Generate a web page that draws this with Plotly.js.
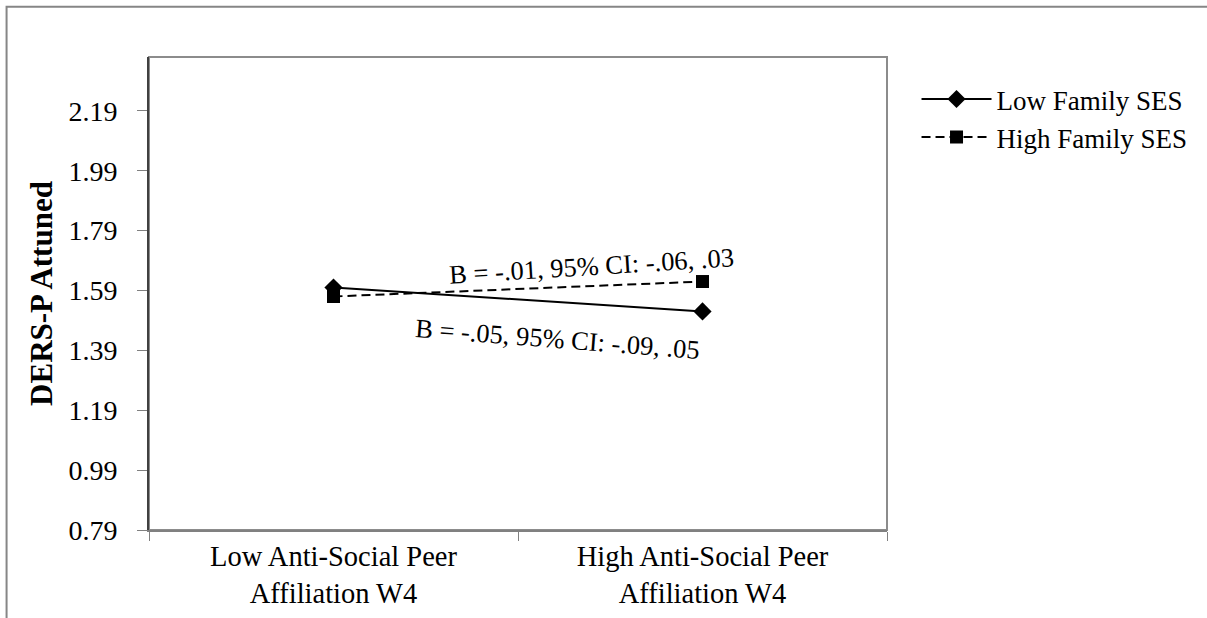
<!DOCTYPE html>
<html>
<head>
<meta charset="utf-8">
<script src="https://cdn.plot.ly/plotly-3.0.1.min.js"></script>
<style>html,body{margin:0;padding:0;background:#fff;}#chart{width:1207px;height:618px;}</style>
</head>
<body>
<div id="chart"></div>
<script>
// Data
const categories = ["Low Anti-Social Peer<br>Affiliation W4", "High Anti-Social Peer<br>Affiliation W4"];
const lowSES = [1.60, 1.52];
const highSES = [1.57, 1.62];
const seriesNames = ["Low Family SES", "High Family SES"];
const yTickVals = [0.79, 0.99, 1.19, 1.39, 1.59, 1.79, 1.99, 2.19];
const yTickText = ["0.79", "0.99", "1.19", "1.39", "1.59", "1.79", "1.99", "2.19"];
const noteHigh = "B = -.01, 95% CI: -.06, .03";
const noteLow = "B = -.05, 95% CI: -.09, .05";

const FONT = "'Liberation Serif', 'Times New Roman', Times, serif";

const traces = [
  {
    x: categories, y: lowSES, name: seriesNames[0], type: "scatter", mode: "lines+markers",
    line: {color: "#000", width: 2, dash: "solid"},
    marker: {symbol: "diamond", size: 14, color: "#000"}
  },
  {
    x: categories, y: highSES, name: seriesNames[1], type: "scatter", mode: "lines+markers",
    line: {color: "#000", width: 2, dash: "9px,5px"},
    marker: {symbol: "square", size: 13, color: "#000"}
  }
];

const layout = {
  width: 1207, height: 618,
  margin: {l: 149, r: 320, t: 57, b: 88},
  paper_bgcolor: "#fff", plot_bgcolor: "#fff",
  font: {family: FONT, color: "#000", size: 28},
  showlegend: true,
  legend: {
    x: 1.04, y: 0.962, xanchor: "left", yanchor: "top",
    font: {family: FONT, size: 27, color: "#000"},
    itemwidth: 70, tracegroupgap: 0, bgcolor: "rgba(0,0,0,0)"
  },
  xaxis: {
    type: "category",
    range: [-0.5, 1.5],
    showline: true, linecolor: "#808080", linewidth: 2,
    ticks: "outside", tickson: "boundaries", ticklen: 9, tickcolor: "#808080", tickwidth: 1,
    showgrid: false, zeroline: false,
    tickfont: {family: FONT, size: 28.5, color: "#000"},
    fixedrange: true
  },
  yaxis: {
    range: [0.79, 2.37],
    tickvals: yTickVals, ticktext: yTickText,
    showline: true, linecolor: "#404040", linewidth: 2,
    ticks: "outside", ticklen: 10, tickcolor: "#808080", tickwidth: 1,
    ticklabelstandoff: 14,
    showgrid: false, zeroline: false,
    tickfont: {family: FONT, size: 28, color: "#000"},
    title: {text: "<b>DERS-P Attuned</b>", font: {family: FONT, size: 31, color: "#000"}, standoff: 7},
    fixedrange: true
  },
  shapes: [
    {type: "rect", xref: "paper", yref: "paper", x0: 0, x1: 1, y0: 0, y1: 1,
     line: {color: "#8c8c8c", width: 2}, layer: "below"},
    {type: "rect", xref: "paper", yref: "paper", x0: -0.193, x1: 1.45, y0: -0.25, y1: 1.106,
     line: {color: "#868686", width: 2}, layer: "below"}
  ],
  annotations: [
    {xref: "x", yref: "y", x: 0.70, y: 1.672, text: noteHigh, showarrow: false,
     textangle: -3.5, xanchor: "center", yanchor: "middle",
     font: {family: FONT, size: 26.5, color: "#000"}},
    {xref: "x", yref: "y", x: 0.607, y: 1.429, text: noteLow, showarrow: false,
     textangle: 4.4, xanchor: "center", yanchor: "middle",
     font: {family: FONT, size: 26.5, color: "#000"}}
  ]
};

Plotly.newPlot("chart", traces, layout, {displayModeBar: false, staticPlot: true});
</script>
</body>
</html>
